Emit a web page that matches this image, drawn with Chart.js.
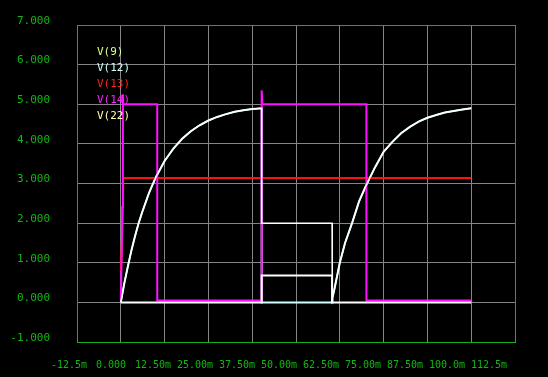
<!DOCTYPE html>
<html>
<head>
<meta charset="utf-8">
<script src="https://cdn.jsdelivr.net/npm/chart.js@4.4.1/dist/chart.umd.min.js"></script>
<style>
  html, body { margin: 0; padding: 0; background: #000; }
  canvas { display: block; }
</style>
</head>
<body>
<canvas id="scope" width="548" height="377"></canvas>
<script>
// time axis in ms, values in volts
const xTickValues = [-12.5, 0, 12.5, 25, 37.5, 50, 62.5, 75, 87.5, 100, 112.5];
const xTickLabels = ['-12.5m', '0.000', '12.50m', '25.00m', '37.50m', '50.00m',
    '62.50m', '75.00m', '87.50m', '100.0m', '112.5m'];
const yTickValues = [-1, 0, 1, 2, 3, 4, 5, 6, 7];

// first charging curve, 0 .. 40.2 ms
const rise1Times = [0, 1, 2, 3, 4, 5, 6, 8, 10, 12.5, 15, 17.5, 20, 22.5, 25, 27.5, 30, 32.5, 35, 37.5, 40.2];
const rise1Volts = [0, 0.48, 0.9, 1.3, 1.65, 1.97, 2.25, 2.75, 3.16, 3.57, 3.88, 4.13, 4.32, 4.47, 4.59, 4.68, 4.75, 4.81, 4.85, 4.88, 4.9];

// second charging curve, 60.4 .. 100 ms
const rise2Times = [60.4, 61, 62.5, 64, 66, 68, 70, 72.5, 75, 77.5, 80, 82.5, 85, 87.5, 90, 92.5, 95, 97.5, 100];
const rise2Volts = [0.1, 0.35, 1.0, 1.5, 2.0, 2.55, 2.95, 3.4, 3.8, 4.05, 4.27, 4.43, 4.56, 4.66, 4.73, 4.79, 4.83, 4.87, 4.9];

const v9Times = [0, 40.2, 40.2, 60.3, 60.3, 100];
const v9Volts = [0, 0, 0.68, 0.68, 0, 0];

const v12Times = rise1Times.concat([40.2, 60.3], rise2Times);
const v12Volts = rise1Volts.concat([0, 0], rise2Volts);

const v13Times = [0, 0.2, 0.6, 0.7, 100];
const v13Volts = [0.8, 1.2, 2.3, 3.14, 3.14];

const v14Times = [0, 0.3, 0.4, 0.6, 0.7, 10.4, 10.4, 40.2, 40.2, 40.4, 70.1, 70.1, 100];
const v14Volts = [0.05, 1.4, 2.4, 5.25, 5.0, 5.0, 0.05, 0.05, 5.35, 5.0, 5.0, 0.05, 0.05];

const v22Times = rise1Times.concat([40.2, 60.3, 60.3], rise2Times);
const v22Volts = rise1Volts.concat([2.0, 2.0, 0], rise2Volts);

function toPoints(times, volts) {
    return times.map((t, i) => ({ x: t, y: volts[i] }));
}

const labelColors = ['#d8ff90', '#c8ffff', '#ff2020', '#ff20ff', '#ffffb0'];

// black screen background + green frame
const scopeFrame = {
    id: 'scopeFrame',
    beforeDraw(chart) {
        const c = chart.ctx;
        c.save();
        c.fillStyle = '#000';
        c.fillRect(0, 0, chart.width, chart.height);
        c.restore();
    },
    afterDraw(chart) {
        const a = chart.chartArea;
        const c = chart.ctx;
        const l = Math.round(a.left), t = Math.round(a.top);
        const r = Math.round(a.right), b = Math.round(a.bottom);
        c.save();
        c.fillStyle = '#18b018';
        c.fillRect(l, t, r - l + 1, 1);
        c.fillRect(l, b, r - l + 1, 1);
        c.fillRect(l, t, 1, b - t + 1);
        c.fillRect(r, t, 1, b - t + 1);
        c.restore();
    }
};

// trace names written inside the plot, like the scope does
const traceNames = {
    id: 'traceNames',
    afterDatasetsDraw(chart) {
        const c = chart.ctx;
        c.save();
        c.font = '11px "DejaVu Sans Mono"';
        c.textBaseline = 'middle';
        chart.data.datasets.forEach((ds, i) => {
            c.fillStyle = labelColors[i];
            c.fillText(ds.label, 97, 52 + i * 16);
        });
        c.restore();
    }
};

function trace(label, times, volts, color, width, order) {
    return {
        label: label,
        data: toPoints(times, volts),
        borderColor: color,
        borderWidth: width,
        pointRadius: 0,
        tension: 0,
        fill: false,
        order: order
    };
}

// drop the label overhang so the layout padding alone places the plot frame
function noOverhang(scale) {
    scale.paddingTop = 0;
    scale.paddingBottom = 0;
    scale.paddingLeft = 0;
    scale.paddingRight = 0;
}

// grid axes only carry the inner lines; the frame is drawn by the plugin
function innerTicks(values) {
    return (scale) => {
        scale.ticks = values.slice(1, -1).map(v => ({ value: v }));
    };
}

new Chart(document.getElementById('scope'), {
    type: 'line',
    data: {
        datasets: [
            trace('V(9)', v9Times, v9Volts, '#ffffff', 2, 1),
            trace('V(12)', v12Times, v12Volts, '#d0ffff', 2, 4),
            trace('V(13)', v13Times, v13Volts, '#ff1010', 2, 3),
            trace('V(14)', v14Times, v14Volts, '#ff10ff', 2, 2),
            trace('V(22)', v22Times, v22Volts, '#ffffff', 1.5, 0)
        ]
    },
    options: {
        responsive: false,
        animation: false,
        devicePixelRatio: 1,
        layout: { padding: { top: 25, right: 33, left: 0, bottom: 0 } },
        plugins: {
            legend: { display: false },
            tooltip: { enabled: false }
        },
        scales: {
            x: {
                type: 'linear',
                position: 'bottom',
                min: -12.5,
                max: 112.5,
                afterBuildTicks: innerTicks(xTickValues),
                afterFit(scale) { scale.height = 0; noOverhang(scale); },
                grid: { color: '#858585', lineWidth: 1, drawTicks: false },
                border: { display: false },
                ticks: { display: false }
            },
            // the scope prints its time labels on a slightly tighter pitch than the grid
            xLabels: {
                type: 'linear',
                position: 'bottom',
                min: -10.12,
                max: 120.24,
                afterBuildTicks(scale) {
                    scale.ticks = xTickValues.map(v => ({ value: v }));
                },
                afterFit(scale) { scale.height = 35; noOverhang(scale); },
                grid: { display: false, drawTicks: false },
                border: { display: false },
                ticks: {
                    color: '#10b810',
                    font: { family: 'DejaVu Sans Mono', size: 10 },
                    padding: 17,
                    maxRotation: 0,
                    autoSkip: false,
                    callback: (v, i) => xTickLabels[i]
                }
            },
            y: {
                type: 'linear',
                position: 'left',
                min: -1,
                max: 7,
                afterBuildTicks: innerTicks(yTickValues),
                afterFit(scale) { scale.width = 0; noOverhang(scale); },
                grid: { color: '#858585', lineWidth: 1, drawTicks: false },
                border: { display: false },
                ticks: { display: false }
            },
            yLabels: {
                type: 'linear',
                position: 'left',
                min: -1,
                max: 7,
                afterBuildTicks(scale) {
                    scale.ticks = yTickValues.map(v => ({ value: v }));
                },
                afterFit(scale) { scale.width = 77; noOverhang(scale); },
                grid: { display: false, drawTicks: false },
                border: { display: false },
                ticks: {
                    color: '#10b810',
                    font: { family: 'DejaVu Sans Mono', size: 11 },
                    padding: 27,
                    labelOffset: -4,
                    callback: (v) => v.toFixed(3)
                }
            }
        }
    },
    plugins: [scopeFrame, traceNames]
});
</script>
</body>
</html>
